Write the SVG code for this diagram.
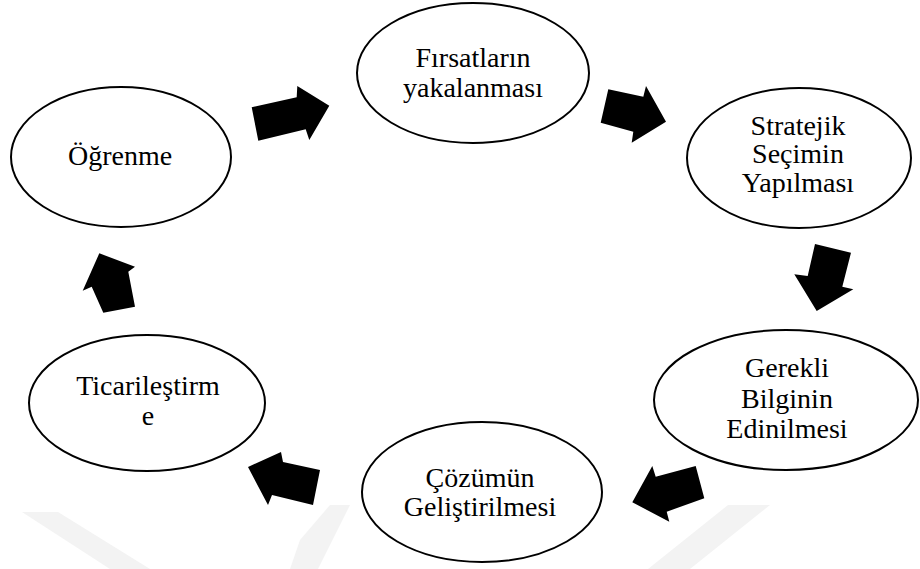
<svg xmlns="http://www.w3.org/2000/svg" width="920" height="569" viewBox="0 0 920 569">
  <style>
    .node ellipse { fill: #ffffff; stroke: #000000; stroke-width: 2; }
    .node text { font-family: "Liberation Serif", "Times New Roman", serif; font-size: 28px; text-anchor: middle; fill: #000000; }
    .arrow { fill: #000000; stroke: none; }
    .wm { fill: #f3f3f3; stroke: none; }
  </style>
  <rect x="0" y="0" width="920" height="569" fill="#ffffff"/>
  <g id="watermark">
    <polygon class="wm" points="22,512 58,512 150,569 110,569"/>
    <polygon class="wm" points="300,540 330,505 350,505 318,569 290,569"/>
    <polygon class="wm" points="728,505 770,505 690,569 648,569"/>
  </g>
  <g id="connectors">
    <polygon class="arrow" points="251.7,107.3 296.7,97.3 297.3,86 329.3,105.7 309.3,140 305.7,129.3 258.3,140.7"/>
    <polygon class="arrow" points="608.3,89.3 643.3,96.7 646,86 666,121.7 631.7,142.7 633.3,131.7 600.7,122.7"/>
    <polygon class="arrow" points="815,244 851,252.7 842.3,286.7 853.3,289.3 816.7,311 794.3,274.3 807.7,276"/>
    <polygon class="arrow" points="652.3,466 655.7,476.7 695.7,466 704.3,498.3 666.7,511.7 669.3,521.7 632.3,502.3"/>
    <polygon class="arrow" points="248,467 281,452 283,462 320,470 313,505 272,495 268,505"/>
    <polygon class="arrow" points="99.3,253.3 135,266.7 128.3,271.7 135,306.7 103.3,312.7 91.7,286.7 82.7,290.7"/>
  </g>
  <g id="node-firsatlarin" class="node">
    <ellipse cx="473" cy="73" rx="116" ry="70"/>
    <text x="473" y="67">Fırsatların</text>
    <text x="473" y="97">yakalanması</text>
  </g>
  <g id="node-stratejik" class="node">
    <ellipse cx="799" cy="158" rx="112" ry="70"/>
    <text x="798" y="135">Stratejik</text>
    <text x="798" y="163">Seçimin</text>
    <text x="798" y="192">Yapılması</text>
  </g>
  <g id="node-gerekli" class="node">
    <ellipse cx="786" cy="400" rx="132" ry="70"/>
    <text x="787" y="377">Gerekli</text>
    <text x="787" y="408">Bilginin</text>
    <text x="787" y="438">Edinilmesi</text>
  </g>
  <g id="node-cozumun" class="node">
    <ellipse cx="482" cy="492" rx="120" ry="70"/>
    <text x="480" y="487">Çözümün</text>
    <text x="480" y="516">Geliştirilmesi</text>
  </g>
  <g id="node-ticarilestirme" class="node">
    <ellipse cx="147" cy="403" rx="118" ry="68"/>
    <text x="148" y="395">Ticarileştirm</text>
    <text x="148" y="425">e</text>
  </g>
  <g id="node-ogrenme" class="node">
    <ellipse cx="121" cy="157" rx="110" ry="70"/>
    <text x="120" y="165">Öğrenme</text>
  </g>
</svg>
